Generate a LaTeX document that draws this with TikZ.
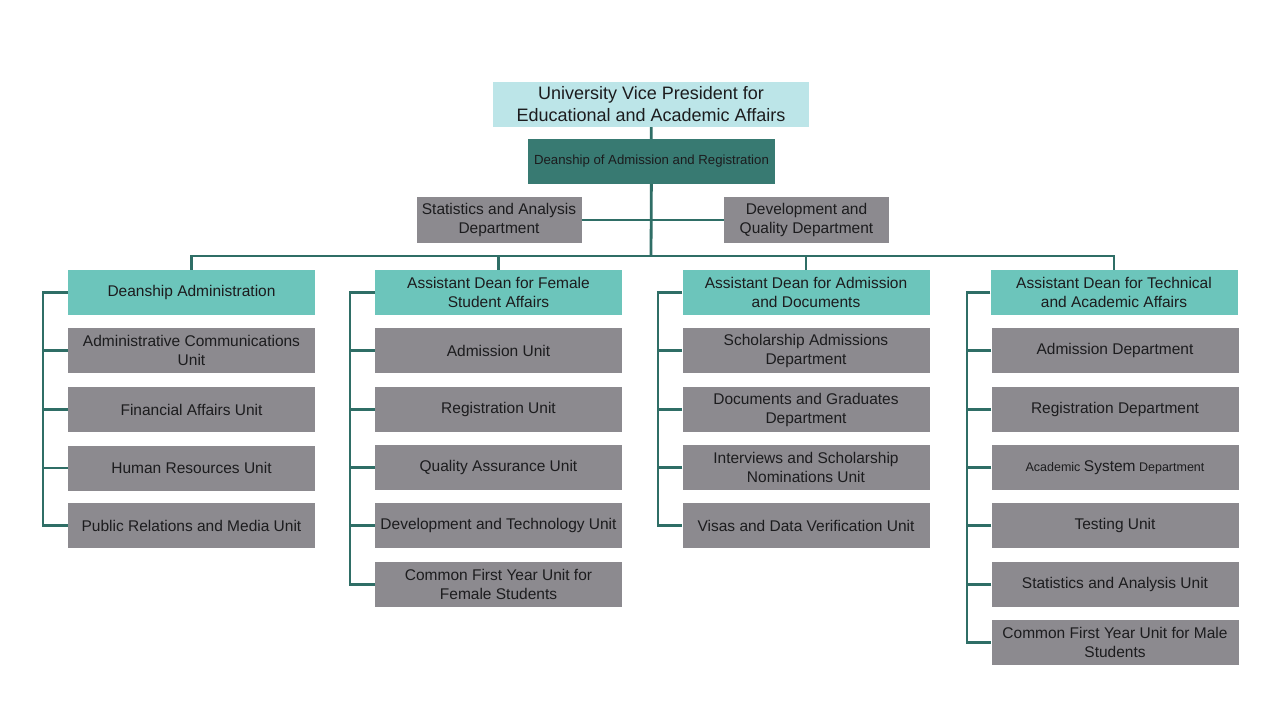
\documentclass[tikz,border=0pt]{standalone}
\usepackage{fontspec}
\setmainfont{Liberation Sans}
\definecolor{topc}{RGB}{188,229,232}
\definecolor{deanc}{RGB}{56,122,114}
\definecolor{headc}{RGB}{108,197,187}
\definecolor{grayc}{RGB}{140,138,143}
\definecolor{linec}{RGB}{47,110,102}
\definecolor{txt}{RGB}{28,28,30}
\tikzset{
  base/.style={rectangle, inner sep=1pt, align=center, text=txt, minimum width=247pt, minimum height=45pt, font=\fontsize{15.5}{19}\selectfont},
  gbox/.style={base, fill=grayc},
  hbox/.style={base, fill=headc},
  sbox/.style={base, fill=grayc, minimum width=165pt, minimum height=46pt},
  conn/.style={draw=linec, line width=2.8pt},
}
\begin{document}
\begin{tikzpicture}[x=1pt,y=-1pt]
\useasboundingbox (0,0) rectangle (1280,720);
\fill[white] (0,0) rectangle (1280,720);
% top
\node[base, fill=topc, minimum width=316pt, minimum height=45pt, font=\fontsize{18}{22}\selectfont] (top) at (651,104.5) {University Vice President for\\Educational and Academic Affairs};
\node[base, fill=deanc, minimum width=247pt, minimum height=45pt, font=\fontsize{13.2}{15}\selectfont] (dean) at (651.5,161.5) {Deanship of Admission and Registration};
\node[sbox] (stat) at (499,220) {Statistics and Analysis\\Department};
\node[sbox] (devq) at (806.5,220) {Development and\\Quality Department};
\coordinate (bus) at (651,256);
% heads
\node[hbox] (h1) at (191.5,292.5) {Deanship Administration};
\node[hbox] (h2) at (498.5,292.5) {Assistant Dean for Female\\Student Affairs};
\node[hbox] (h3) at (806,292.5) {Assistant Dean for Admission\\and Documents};
\node[hbox] (h4) at (1114,292.5) {Assistant Dean for Technical\\and Academic Affairs};
% column 1
\node[gbox] (a1) at (191.5,350.5) {Administrative Communications\\Unit};
\node[gbox] (a2) at (191.5,409.5) {Financial Affairs Unit};
\node[gbox] (a3) at (191.5,468) {Human Resources Unit};
\node[gbox] (a4) at (191.5,525.5) {Public Relations and Media Unit};
% column 2
\node[gbox] (b1) at (498.5,350.5) {Admission Unit};
\node[gbox] (b2) at (498.5,409.5) {Registration Unit};
\node[gbox] (b3) at (498.5,467.5) {Quality Assurance Unit};
\node[gbox] (b4) at (498.5,525.5) {Development and Technology Unit};
\node[gbox] (b5) at (498.5,584.5) {Common First Year Unit for\\Female Students};
% column 3
\node[gbox] (c1) at (806,350.5) {Scholarship Admissions\\Department};
\node[gbox] (c2) at (806,409.5) {Documents and Graduates\\Department};
\node[gbox] (c3) at (806,467.5) {Interviews and Scholarship\\Nominations Unit};
\node[gbox] (c4) at (806,525.5) {Visas and Data Verification Unit};
% column 4
\node[gbox] (d1) at (1115,350.5) {Admission Department};
\node[gbox] (d2) at (1115,409.5) {Registration Department};
\node[gbox] (d3) at (1115,467.5) {{\fontsize{12.5}{14}\selectfont Academic }System{\fontsize{12.5}{14}\selectfont{} Department}};
\node[gbox] (d4) at (1115,525.5) {Testing Unit};
\node[gbox] (d5) at (1115,584.5) {Statistics and Analysis Unit};
\node[gbox] (d6) at (1115,642.5) {Common First Year Unit for Male\\Students};
% connectors
\draw[conn] (top) -- (dean);
\draw[conn] (dean) -- (bus);
\draw[conn] (stat) -- (devq);
\draw[conn] (h1.north) |- (bus) -| (h4.north);
\draw[conn] (h2.north) |- (bus);
\draw[conn] (h3.north) |- (bus);
\coordinate (r1) at (43,0);
\coordinate (r2) at (350,0);
\coordinate (r3) at (658,0);
\coordinate (r4) at (967,0);
\draw[conn] (h1.west) -- (h1.west -| r1) |- (a4.west);
\foreach \n in {a1,a2,a3} \draw[conn] (\n.west) -- (\n.west -| r1);
\draw[conn] (h2.west) -- (h2.west -| r2) |- (b5.west);
\foreach \n in {b1,b2,b3,b4} \draw[conn] (\n.west) -- (\n.west -| r2);
\draw[conn] (h3.west) -- (h3.west -| r3) |- (c4.west);
\foreach \n in {c1,c2,c3} \draw[conn] (\n.west) -- (\n.west -| r3);
\draw[conn] (h4.west) -- (h4.west -| r4) |- (d6.west);
\foreach \n in {d1,d2,d3,d4,d5} \draw[conn] (\n.west) -- (\n.west -| r4);
\end{tikzpicture}
\end{document}
